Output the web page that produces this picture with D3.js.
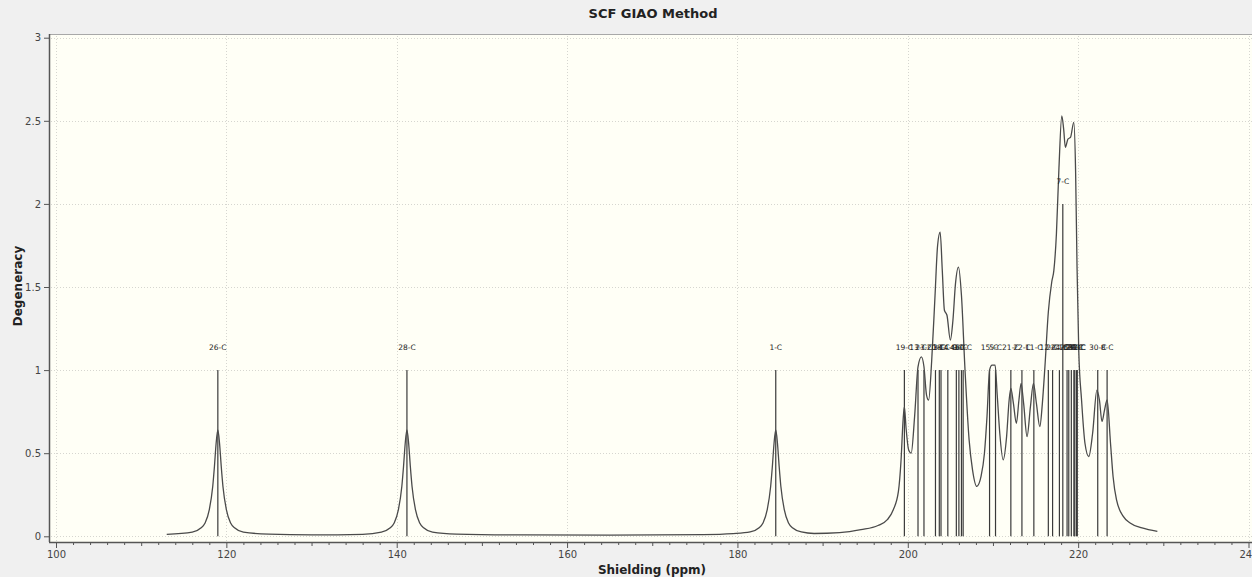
<!DOCTYPE html>
<html>
<head>
<meta charset="utf-8">
<script src="https://cdn.jsdelivr.net/npm/d3@7"></script>
<style>
  html, body { margin: 0; padding: 0; background: #f0f0f0; }
  svg { display: block; }
</style>
</head>
<body>
<script>
var width = 1252,
    height = 577;

// tick labels
var xTicks = [100, 120, 140, 160, 180, 200, 220, 240];
var yTicks = [0, 0.5, 1, 1.5, 2, 2.5, 3];

// stick spectrum: carbon label, shielding (ppm), degeneracy
var atoms = ['26-C', '28-C', '1-C',
    '19-C', '13-C', '23-C', '20-C', '3-C', '18-C', '14-C', '4-C', '9-C', '6-C', '10-C',
    '15-C', '5-C', '21-C', '22-C', '11-C', '12-C', '2-C', '24-C', '7-C', '16-C', '25-C',
    '17-C', '27-C', '29-C', '31-C', '32-C', '30-C', '8-C'];
var shifts = [119.0, 141.2, 184.5,
    199.6, 201.2, 201.9, 203.25, 203.7, 203.9, 204.7, 205.7, 206.0, 206.3, 206.5,
    209.6, 210.3, 212.1, 213.4, 214.8, 216.5, 217.0, 217.8, 218.2, 218.7, 218.9,
    219.2, 219.5, 219.6, 219.8, 219.9, 222.3, 223.4];
var degeneracy = [1, 1, 1,
    1, 1, 1, 1, 1, 1, 1, 1, 1, 1, 1,
    1, 1, 1, 1, 1, 1, 1, 1, 2, 1, 1,
    1, 1, 1, 1, 1, 1, 1];

// broadened curve
var curvePpm = [113, 116, 117, 117.5, 118, 118.4, 118.6, 118.8, 119, 119.2, 119.4, 119.6, 120, 120.5, 121, 122, 125, 130,
    136, 138.2, 139.2, 139.7, 140.2, 140.6, 140.8, 141.0, 141.2, 141.4, 141.6, 141.8, 142.2, 142.7, 143.2, 144.2, 147, 155,
    165, 176, 179.5, 181.5, 182.5, 183.0, 183.5, 183.9, 184.1, 184.3, 184.5, 184.7, 184.9, 185.1, 185.5, 186, 186.5, 187.5, 189,
    192, 194.5, 196.5, 197.6, 198.3, 198.9, 199.2, 199.45, 199.6, 199.8, 200.1, 200.4, 200.8, 201.2, 201.6, 201.9,
    202.2, 202.45, 202.8, 203.2, 203.5, 203.8, 204.05, 204.3, 204.6, 205.0, 205.3, 205.6, 205.95, 206.3, 206.7,
    207.2, 207.6, 208.1, 208.6, 209.0, 209.3, 209.6, 209.9, 210.25, 210.5, 210.8, 211.2, 211.6, 211.9, 212.1,
    212.4, 212.75, 213.05, 213.3, 213.6, 214.0, 214.4, 214.75, 215.1, 215.5, 215.8, 216.1, 216.5, 216.9, 217.15,
    217.45, 217.75, 218.08, 218.3, 218.5, 218.8, 219.1, 219.49, 219.7, 219.87, 220.07, 220.4, 220.8, 221.25,
    221.7, 222.2, 222.5, 222.8, 223.1, 223.4, 223.8, 224.1, 224.5, 225.3, 226.1, 227.5, 229.3];
var curveDeg = [0.012, 0.025, 0.05, 0.08, 0.16, 0.3, 0.42, 0.56, 0.64, 0.56, 0.42, 0.3, 0.16, 0.08, 0.05, 0.025, 0.013, 0.009,
    0.012, 0.025, 0.05, 0.08, 0.16, 0.3, 0.42, 0.56, 0.64, 0.56, 0.42, 0.3, 0.16, 0.08, 0.05, 0.025, 0.013, 0.008,
    0.007, 0.01, 0.016, 0.026, 0.05, 0.08, 0.16, 0.3, 0.42, 0.56, 0.64, 0.56, 0.42, 0.3, 0.16, 0.08, 0.05, 0.026, 0.017,
    0.022, 0.04, 0.065, 0.1, 0.16, 0.27, 0.45, 0.7, 0.78, 0.65, 0.52, 0.5, 0.72, 1.02, 1.08, 1.02,
    0.85, 0.82, 1.05, 1.45, 1.75, 1.83, 1.6, 1.36, 1.33, 1.18, 1.3, 1.52, 1.62, 1.45, 1.02,
    0.58, 0.4, 0.3, 0.36, 0.5, 0.72, 1.0, 1.03, 1.03, 0.85, 0.62, 0.46, 0.6, 0.82, 0.89,
    0.8, 0.68, 0.82, 0.92, 0.8, 0.6, 0.78, 0.92, 0.8, 0.66, 0.8, 1.02, 1.35, 1.53, 1.6,
    1.82, 2.22, 2.53, 2.45, 2.34, 2.39, 2.4, 2.49, 2.2, 1.62, 1.12, 0.82, 0.56, 0.48,
    0.62, 0.88, 0.82, 0.69, 0.76, 0.82, 0.56, 0.36, 0.22, 0.12, 0.08, 0.05, 0.03];

var svg = d3.select('body')
    .append('svg')
    .attr('width', width)
    .attr('height', height)
    .style('font-family', '"DejaVu Sans", sans-serif');

svg.append('rect')
    .attr('width', width)
    .attr('height', height)
    .attr('fill', '#f0f0f0');

var plotLeft = 49, plotTop = 34, plotBottom = 542;

var x = d3.scaleLinear().domain([100, 240]).range([56, 1248.5]);
var y = d3.scaleLinear().domain([0, 3]).range([536.3, 37.7]);

//plot background
svg.append('rect')
    .attr('x', plotLeft)
    .attr('y', plotTop)
    .attr('width', width - plotLeft)
    .attr('height', plotBottom - plotTop)
    .attr('fill', '#fffff6');

svg.append('line')
    .attr('x1', plotLeft).attr('x2', width)
    .attr('y1', plotTop + 0.5).attr('y2', plotTop + 0.5)
    .attr('stroke', '#a8a8a8');

//grid
var grid = svg.append('g').attr('stroke', '#d6d6d0').attr('stroke-dasharray', '1,2');
grid.selectAll('.gx')
    .data(xTicks)
    .enter().append('line')
    .attr('x1', function(d){ return Math.round(x(d)) + 0.5; })
    .attr('x2', function(d){ return Math.round(x(d)) + 0.5; })
    .attr('y1', plotTop + 2).attr('y2', plotBottom - 1);
grid.selectAll('.gy')
    .data(yTicks)
    .enter().append('line')
    .attr('x1', plotLeft + 2).attr('x2', width)
    .attr('y1', function(d){ return Math.round(y(d)) + 0.5; })
    .attr('y2', function(d){ return Math.round(y(d)) + 0.5; });

//sticks
svg.append('g').selectAll('line')
    .data(shifts)
    .enter().append('line')
    .attr('x1', function(d){ return x(d); })
    .attr('x2', function(d){ return x(d); })
    .attr('y1', y(0))
    .attr('y2', function(d, i){ return y(degeneracy[i]); })
    .attr('stroke', '#3a3a3a')
    .attr('stroke-width', 1.2);

//broadened curve
var line = d3.line()
    .x(function(d){ return x(d); })
    .y(function(d, i){ return y(curveDeg[i]); })
    .curve(d3.curveMonotoneX);

svg.append('path')
    .attr('d', line(curvePpm))
    .attr('fill', 'none')
    .attr('stroke', '#4a4a4a')
    .attr('stroke-width', 1.3);

//stick labels
svg.append('g').selectAll('text')
    .data(atoms)
    .enter().append('text')
    .attr('x', function(d, i){ return x(shifts[i]); })
    .attr('y', function(d, i){ return y(degeneracy[i]) - 20; })
    .attr('text-anchor', 'middle')
    .attr('font-size', '7.5px')
    .attr('fill', '#222')
    .text(function(d){ return d; });

//axes
var yAxis = svg.append('g')
    .attr('transform', 'translate(' + plotLeft + ',0)')
    .call(d3.axisLeft(y).tickValues(yTicks).tickSize(5).tickSizeOuter(0)
        .tickFormat(function(d){ return String(d); }));
yAxis.select('.domain').remove();
yAxis.selectAll('.tick line').attr('stroke', '#555');
yAxis.selectAll('.tick text')
    .attr('font-size', '10px').attr('fill', '#444')
    .attr('font-family', '"DejaVu Sans", sans-serif').attr('x', -8);

svg.append('line')
    .attr('x1', plotLeft + 0.5).attr('x2', plotLeft + 0.5)
    .attr('y1', plotTop).attr('y2', plotBottom)
    .attr('stroke', '#555').attr('stroke-width', 1.5);

var minorTicks = x.ticks(70);
var xMinor = svg.append('g')
    .attr('transform', 'translate(0,' + plotBottom + ')')
    .call(d3.axisBottom(x).tickValues(minorTicks.filter(function(d){ return d % 10 !== 0; }))
        .tickSize(3).tickSizeOuter(0).tickFormat(''));
xMinor.select('.domain').remove();
var xMid = svg.append('g')
    .attr('transform', 'translate(0,' + plotBottom + ')')
    .call(d3.axisBottom(x).tickValues([110, 130, 150, 170, 190, 210, 230])
        .tickSize(4).tickSizeOuter(0).tickFormat(''));
xMid.select('.domain').remove();
var xAxis = svg.append('g')
    .attr('transform', 'translate(0,' + plotBottom + ')')
    .call(d3.axisBottom(x).tickValues(xTicks).tickSize(6).tickSizeOuter(0)
        .tickFormat(function(d){ return String(d); }));
xAxis.select('.domain').remove();
xAxis.selectAll('.tick text')
    .attr('font-size', '10px').attr('fill', '#444')
    .attr('font-family', '"DejaVu Sans", sans-serif').attr('y', 9);
svg.selectAll('.tick line').attr('stroke', '#555');

svg.append('line')
    .attr('x1', plotLeft).attr('x2', width)
    .attr('y1', plotBottom + 0.5).attr('y2', plotBottom + 0.5)
    .attr('stroke', '#555').attr('stroke-width', 1.5);

//titles
svg.append('text')
    .attr('x', 653).attr('y', 18)
    .attr('text-anchor', 'middle')
    .attr('font-size', '13px').attr('font-weight', 'bold').attr('fill', '#222')
    .text('SCF GIAO Method');

svg.append('text')
    .attr('x', 652).attr('y', 574)
    .attr('text-anchor', 'middle')
    .attr('font-size', '12px').attr('font-weight', 'bold').attr('fill', '#222')
    .text('Shielding (ppm)');

svg.append('text')
    .attr('transform', 'translate(22,286) rotate(-90)')
    .attr('text-anchor', 'middle')
    .attr('font-size', '12px').attr('font-weight', 'bold').attr('fill', '#222')
    .text('Degeneracy');
</script>
</body>
</html>
